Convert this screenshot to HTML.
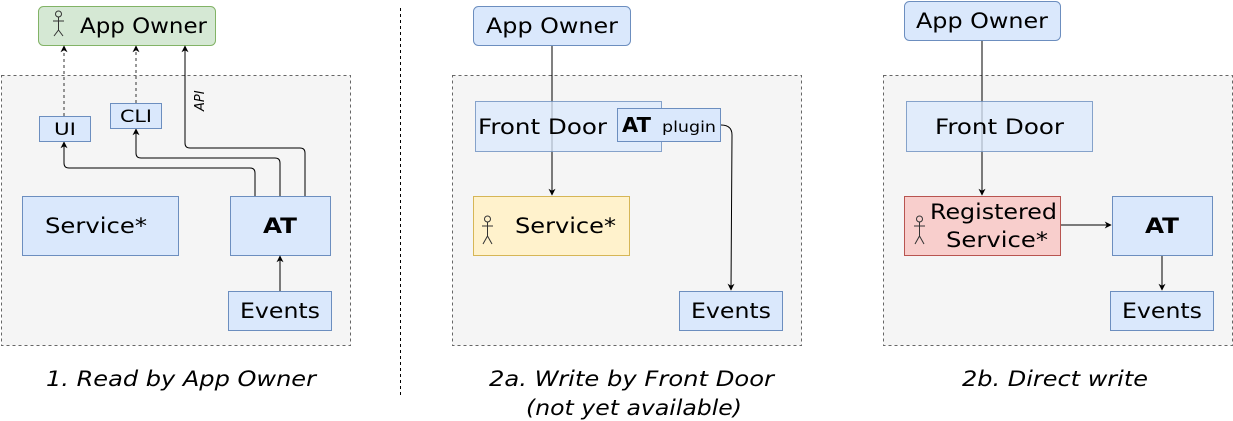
<!DOCTYPE html>
<html><head><meta charset="utf-8"><style>
html,body{margin:0;padding:0;background:#fff;}
svg{display:block;}
text{font-family:"DejaVu Sans","Liberation Sans",sans-serif;fill:#000;}
</style></head><body>
<svg width="1233" height="421" viewBox="0 0 1233 421" xmlns="http://www.w3.org/2000/svg">
<defs>
<marker id="ah" viewBox="0 0 10 10" refX="9" refY="5" markerWidth="7" markerHeight="7" orient="auto-start-reverse" markerUnits="userSpaceOnUse">
<path d="M0,0 L10,5 L0,10 L3,5 z" fill="#000"/></marker>
</defs>
<rect x="1.5" y="75.5" width="349" height="270" fill="#f5f5f5" stroke="#666" stroke-dasharray="3,3"/>
<rect x="452.5" y="75.5" width="349" height="270" fill="#f5f5f5" stroke="#666" stroke-dasharray="3,3"/>
<rect x="883.5" y="75.5" width="349" height="270" fill="#f5f5f5" stroke="#666" stroke-dasharray="3,3"/>
<line x1="400.5" y1="8" x2="400.5" y2="395" stroke="#000" stroke-dasharray="3,3"/>

<!-- Panel 1 -->
<rect x="38.5" y="6.5" width="177" height="39" rx="5" fill="#d5e8d4" stroke="#82b366"/>
<g stroke="#333" fill="none" stroke-width="1"><circle cx="58.5" cy="14" r="3"/><path d="M58.5 17 V30 M53 21 H64 M58.5 30 L54 36 M58.5 30 L63 36"/></g>
<text x="80" y="33" font-size="21" textLength="127" lengthAdjust="spacingAndGlyphs">App Owner</text>

<line x1="64" y1="116" x2="64" y2="46" stroke="#333" stroke-dasharray="3,3" marker-end="url(#ah)"/>
<line x1="136" y1="103" x2="136" y2="46" stroke="#333" stroke-dasharray="3,3" marker-end="url(#ah)"/>
<path d="M305 196 V153 Q305 148 300 148 H190 Q185 148 185 143 V46" fill="none" stroke="#000" marker-end="url(#ah)"/>
<path d="M280 196 V163 Q280 158 275 158 H141 Q136 158 136 153 V129" fill="none" stroke="#000" marker-end="url(#ah)"/>
<path d="M255 196 V173 Q255 168 250 168 H69 Q64 168 64 163 V142" fill="none" stroke="#000" marker-end="url(#ah)"/>
<text transform="translate(204,111) rotate(-90)" font-size="13" font-style="italic">API</text>

<rect x="39.5" y="116.5" width="51" height="25" fill="#dae8fc" stroke="#6c8ebf"/>
<text x="54" y="135" font-size="17" textLength="22" lengthAdjust="spacingAndGlyphs">UI</text>
<rect x="110.5" y="103.5" width="51" height="25" fill="#dae8fc" stroke="#6c8ebf"/>
<text x="120" y="122" font-size="17" textLength="32" lengthAdjust="spacingAndGlyphs">CLI</text>

<rect x="22.5" y="196.5" width="156" height="59" fill="#dae8fc" stroke="#6c8ebf"/>
<text x="45" y="233" font-size="21" textLength="102" lengthAdjust="spacingAndGlyphs">Service*</text>
<rect x="230.5" y="196.5" width="100" height="59" fill="#dae8fc" stroke="#6c8ebf"/>
<text x="263" y="233" font-size="21" font-weight="bold" textLength="34" lengthAdjust="spacingAndGlyphs">AT</text>
<line x1="280" y1="291" x2="280" y2="256" stroke="#000" marker-end="url(#ah)"/>
<rect x="228.5" y="291.5" width="103" height="39" fill="#dae8fc" stroke="#6c8ebf"/>
<text x="240" y="318" font-size="21" textLength="80" lengthAdjust="spacingAndGlyphs">Events</text>
<text x="46" y="386" font-size="21" font-style="italic" textLength="270" lengthAdjust="spacingAndGlyphs">1. Read by App Owner</text>

<!-- Panel 2 -->
<rect x="473.5" y="6.5" width="157" height="39" rx="5" fill="#dae8fc" stroke="#6c8ebf"/>
<text x="486" y="33" font-size="21" textLength="132" lengthAdjust="spacingAndGlyphs">App Owner</text>
<line x1="552" y1="46" x2="552" y2="195" stroke="#000" marker-end="url(#ah)"/>
<rect x="475.5" y="101.5" width="186" height="50" fill="#dae8fc" fill-opacity="0.75" stroke="#6c8ebf" stroke-opacity="0.8"/>
<text x="478" y="134" font-size="21" textLength="129" lengthAdjust="spacingAndGlyphs">Front Door</text>
<rect x="617.5" y="108.5" width="103" height="33" fill="#dae8fc" stroke="#6c8ebf"/>
<text x="622" y="132" font-size="20" font-weight="bold" textLength="29" lengthAdjust="spacingAndGlyphs">AT</text>
<text x="662" y="132" font-size="15" textLength="54" lengthAdjust="spacingAndGlyphs">plugin</text>
<path d="M721 125 Q732 125 732 135 L731 290" fill="none" stroke="#000" marker-end="url(#ah)"/>
<rect x="473.5" y="196.5" width="156" height="59" fill="#fff2cc" stroke="#d6b656"/>
<g stroke="#333" fill="none"><circle cx="487.5" cy="219" r="3"/><path d="M487.5 222 V236 M482 226 H493 M487.5 236 L483 244 M487.5 236 L492 244"/></g>
<text x="515" y="233" font-size="21" textLength="101" lengthAdjust="spacingAndGlyphs">Service*</text>
<rect x="679.5" y="291.5" width="103" height="39" fill="#dae8fc" stroke="#6c8ebf"/>
<text x="691" y="318" font-size="21" textLength="80" lengthAdjust="spacingAndGlyphs">Events</text>
<text x="489" y="386" font-size="21" font-style="italic" textLength="285" lengthAdjust="spacingAndGlyphs">2a. Write by Front Door</text>
<text x="526" y="415" font-size="21" font-style="italic" textLength="216" lengthAdjust="spacingAndGlyphs">(not yet available)</text>

<!-- Panel 3 -->
<rect x="904.5" y="1.5" width="156" height="39" rx="5" fill="#dae8fc" stroke="#6c8ebf"/>
<text x="916" y="28" font-size="21" textLength="132" lengthAdjust="spacingAndGlyphs">App Owner</text>
<line x1="982" y1="41" x2="982" y2="195" stroke="#000" marker-end="url(#ah)"/>
<rect x="906.5" y="101.5" width="186" height="50" fill="#dae8fc" fill-opacity="0.75" stroke="#6c8ebf" stroke-opacity="0.8"/>
<text x="935" y="134" font-size="21" textLength="129" lengthAdjust="spacingAndGlyphs">Front Door</text>
<rect x="904.5" y="196.5" width="156" height="59" fill="#f8cecc" stroke="#b85450"/>
<g stroke="#333" fill="none"><circle cx="919.5" cy="219" r="3"/><path d="M919.5 222 V236 M914 226 H925 M919.5 236 L915 244 M919.5 236 L924 244"/></g>
<text x="930" y="219" font-size="21" textLength="127" lengthAdjust="spacingAndGlyphs">Registered</text>
<text x="946" y="247" font-size="21" textLength="102" lengthAdjust="spacingAndGlyphs">Service*</text>
<line x1="1061" y1="225" x2="1111" y2="225" stroke="#000" marker-end="url(#ah)"/>
<rect x="1112.5" y="196.5" width="100" height="59" fill="#dae8fc" stroke="#6c8ebf"/>
<text x="1145" y="233" font-size="21" font-weight="bold" textLength="34" lengthAdjust="spacingAndGlyphs">AT</text>
<line x1="1162" y1="256" x2="1162" y2="290" stroke="#000" marker-end="url(#ah)"/>
<rect x="1110.5" y="291.5" width="103" height="39" fill="#dae8fc" stroke="#6c8ebf"/>
<text x="1122" y="318" font-size="21" textLength="80" lengthAdjust="spacingAndGlyphs">Events</text>
<text x="962" y="386" font-size="21" font-style="italic" textLength="186" lengthAdjust="spacingAndGlyphs">2b. Direct write</text>
</svg>
</body></html>
